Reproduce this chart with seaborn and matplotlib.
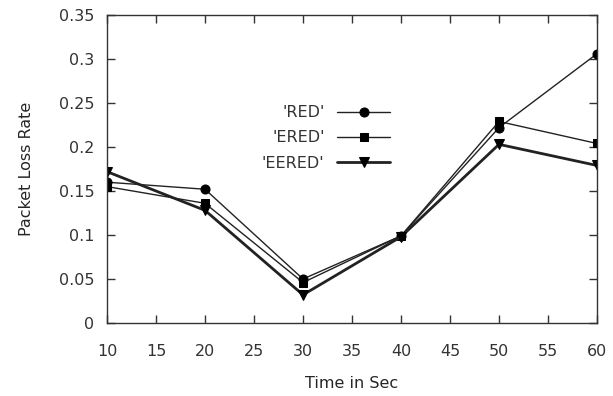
import matplotlib
matplotlib.use("Agg")
import matplotlib.pyplot as plt
import seaborn as sns
import pandas as pd

time_sec = [10, 20, 30, 40, 50, 60]
red = [0.160, 0.152, 0.050, 0.099, 0.222, 0.306]
ered = [0.155, 0.136, 0.046, 0.099, 0.229, 0.204]
eered = [0.172, 0.128, 0.032, 0.098, 0.203, 0.179]
series_names = ["'RED'", "'ERED'", "'EERED'"]
y_ticks = [0, 0.05, 0.1, 0.15, 0.2, 0.25, 0.3, 0.35]
y_tick_labels = ["0", "0.05", "0.1", "0.15", "0.2", "0.25", "0.3", "0.35"]
x_ticks = [10, 15, 20, 25, 30, 35, 40, 45, 50, 55, 60]

sns.set_style("ticks")
plt.rcParams["font.family"] = ["DejaVu Sans"]
plt.rcParams["text.color"] = "#333333"
plt.rcParams["xtick.color"] = "#333333"
plt.rcParams["ytick.color"] = "#333333"

fig = plt.figure(figsize=(6.13, 3.96), dpi=100)
ax = fig.add_axes([107/613, 1-323/396, (597-107)/613, (323-15)/396])

styles = [
    dict(marker="o", lw=1.0, ms=6.5),
    dict(marker="s", lw=1.0, ms=6.0),
    dict(marker="v", lw=2.0, ms=7.0),
]
for name, vals, st in zip(series_names, [red, ered, eered], styles):
    df = pd.DataFrame({"t": time_sec, "v": vals})
    sns.lineplot(data=df, x="t", y="v", ax=ax, color="#222222",
                 linewidth=st["lw"], marker=st["marker"], markersize=st["ms"],
                 markeredgecolor="black", markerfacecolor="black", label=name)

ax.set_xlim(10, 60)
ax.set_ylim(0, 0.35)
ax.set_xticks(x_ticks)
ax.set_xticklabels([str(x) for x in x_ticks])
ax.set_yticks(y_ticks)
ax.set_yticklabels(y_tick_labels)
ax.tick_params(direction="in", length=6, width=1, top=True, right=True,
               labelsize=11.5, pad=9)
ax.tick_params(axis="x", pad=15)
for s in ax.spines.values():
    s.set_visible(True)
    s.set_linewidth(1.0)
    s.set_color("#333333")

ax.set_xlabel("Time in Sec", fontsize=11.5, labelpad=12)
ax.set_ylabel("Packet Loss Rate", fontsize=11.5, labelpad=18)

leg = ax.legend(loc="center right", bbox_to_anchor=(390/613, 1-138/396),
                bbox_transform=fig.transFigure, frameon=False,
                markerfirst=False, handlelength=3.3, handletextpad=0.8,
                labelspacing=0.65, borderpad=0, borderaxespad=0,
                fontsize=11.5)

fig.savefig("out.png", dpi=100)
